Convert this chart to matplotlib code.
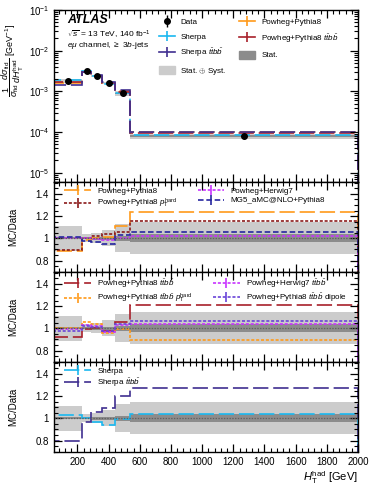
import numpy as np
import matplotlib
matplotlib.use("Agg")
import matplotlib.pyplot as plt
from matplotlib.lines import Line2D
from matplotlib.patches import Patch
from matplotlib.ticker import MultipleLocator, FixedLocator, FixedFormatter, LogLocator, NullFormatter

plt.rcParams["font.family"] = ["Liberation Sans", "DejaVu Sans"]
plt.rcParams["mathtext.fontset"] = "custom"
plt.rcParams["mathtext.rm"] = "Liberation Sans"
plt.rcParams["mathtext.it"] = "Liberation Sans:italic"
plt.rcParams["mathtext.bf"] = "Liberation Sans:bold"
plt.rcParams["mathtext.sf"] = "Liberation Sans"
plt.rcParams["lines.scale_dashes"] = False

# binning and unfolded data
edges = [50, 230, 290, 360, 440, 540, 2000]
data = [1.8e-3, 3.1e-3, 2.4e-3, 1.6e-3, 0.9e-3, 8.0e-5]
tot_unc = [0.115, 0.036, 0.045, 0.072, 0.125, 0.145]
stat_unc = [0.01, 0.01, 0.012, 0.015, 0.02, 0.035]

# MC / Data ratios
r_pp8 = [0.885, 0.985, 1.0, 1.015, 1.11, 1.24]
r_pp8_pthard = [0.895, 1.0, 1.02, 1.035, 1.06, 1.16]
r_ph7 = [1.0, 1.0, 0.99, 0.985, 1.0, 1.022]
r_mg5 = [1.01, 0.98, 0.97, 0.945, 1.03, 1.054]

r_pp8_ttbb = [0.92, 0.99, 1.0, 0.98, 1.06, 1.21]
r_pp8_ttbb_pthard = [1.005, 1.056, 1.035, 0.96, 0.99, 0.895]
r_ph7_ttbb = [0.99, 1.03, 1.02, 0.97, 1.03, 1.036]
r_pp8_ttbb_dipole = [0.98, 1.02, 1.015, 0.975, 1.035, 1.066]

r_sherpa = [1.03, 1.0, 0.97, 0.94, 0.995, 1.038]
r_sherpa_ttbb = [0.8, 0.965, 1.06, 1.09, 1.2, 1.27]

C_ORANGE = "#ff9a1a"
C_DRED = "#a8202a"
C_CYAN = "#1ab8f0"
C_SHTTBB = "#3f2f90"
C_PTHARD = "#8b1a1a"
C_MAGENTA = "#c833ff"
C_MG5 = "#2626a0"
C_DIPOLE = "#6a44d8"
C_TOT = "#cccccc"
C_STAT = "#8c8c8c"

LONG = (0, (11, 3.5))
DOT = (0, (2.2, 1.3))
SHORTD = (0, (4, 2))

edges_a = np.array(edges)
centers = 0.5 * (edges_a[1:] + edges_a[:-1])
data_a = np.array(data)
tot_a = np.array(tot_unc)
stat_a = np.array(stat_unc)

W, H = 374, 490
fig = plt.figure(figsize=(W / 100, H / 100), dpi=100)

def add_ax(top, bottom, left=54, right=358):
    return fig.add_axes([left / W, 1 - bottom / H, (right - left) / W, (bottom - top) / H])

ax0 = add_ax(10, 181.7)
ax1 = add_ax(181.7, 271.7)
ax2 = add_ax(271.7, 361.7)
ax3 = add_ax(361.7, 451.7)

# ---- main panel ----
ax0.stairs(data_a * (1 + tot_a), edges, baseline=data_a * (1 - tot_a), fill=True, color=C_TOT, lw=0)
ax0.stairs(data_a * (1 + stat_a), edges, baseline=data_a * (1 - stat_a), fill=True, color=C_STAT, lw=0)
ax0.stairs(data_a * np.array(r_pp8), edges, color=C_ORANGE, lw=1.2, ls=LONG)
ax0.stairs(data_a * np.array(r_sherpa), edges, color=C_CYAN, lw=1.2, ls=LONG)
ax0.stairs(data_a * np.array(r_pp8_ttbb), edges, color=C_DRED, lw=1.2, ls=LONG)
ax0.stairs(data_a * np.array(r_sherpa_ttbb), edges, color=C_SHTTBB, lw=1.2, ls=LONG)
ax0.errorbar(centers, data_a, yerr=data_a * tot_a, fmt="o", color="k", ms=4, elinewidth=1, capsize=0, zorder=5)

ax0.set_yscale("log")
ax0.set_ylim(6e-6, 1e-1)
ax0.yaxis.set_major_locator(LogLocator(base=10, numticks=10))
ax0.yaxis.set_minor_locator(LogLocator(base=10, subs=np.arange(2, 10), numticks=20))
ax0.yaxis.set_minor_formatter(NullFormatter())
fig.text(13 / W, 1 - 60 / H,
         r"$\dfrac{1}{\sigma_{\rm fid}}\,\dfrac{d\sigma_{\rm fid}}{dH_{\rm T}^{\rm had}}$ [GeV$^{-1}$]",
         rotation=90, ha="center", va="center", fontsize=6.5)

ax0.text(0.042, 0.975, "ATLAS", transform=ax0.transAxes, fontsize=9, weight="bold", style="italic", va="top")
ax0.text(0.042, 0.89, r"$\sqrt{s}$ = 13 TeV, 140 fb$^{-1}$", transform=ax0.transAxes, fontsize=6, va="top")
ax0.text(0.042, 0.825, r"$e\mu$ channel, $\geq$ 3$b$-jets", transform=ax0.transAxes, fontsize=6, va="top")

def mc_handle(color, ls="-"):
    return (Line2D([], [], color=color, ls=ls, lw=1.2),
            Line2D([], [], color=color, ls="none", marker="|", ms=7, mew=1.2))

h_data = (Line2D([], [], color="k", ls="none", marker="|", ms=8, mew=1),
          Line2D([], [], color="k", ls="none", marker="o", ms=4))
handles0 = [h_data, mc_handle(C_CYAN), mc_handle(C_SHTTBB), Patch(color=C_TOT),
            mc_handle(C_ORANGE), mc_handle(C_DRED), Patch(color=C_STAT)]
labels0 = ["Data", "Sherpa", r"Sherpa $t\bar{t}b\bar{b}$", r"Stat. $\oplus$ Syst.",
           "Powheg+Pythia8", r"Powheg+Pythia8 $t\bar{t}b\bar{b}$", "Stat."]
ax0.legend(handles0, labels0, ncol=2, loc="upper left", bbox_to_anchor=(0.32, 1.0), frameon=False,
           fontsize=5.8, handlelength=2.0, handleheight=1.2, labelspacing=0.75, columnspacing=1.6,
           handletextpad=0.7)

# ---- ratio panels ----
def ratio_base(ax):
    ax.stairs(1 + tot_a, edges, baseline=1 - tot_a, fill=True, color=C_TOT, lw=0)
    ax.stairs(1 + stat_a, edges, baseline=1 - stat_a, fill=True, color=C_STAT, lw=0)
    ax.axhline(1, color="#606060", ls=(0, (1, 1)), lw=0.9)
    ax.set_ylim(0.7, 1.51)
    ax.yaxis.set_major_locator(FixedLocator([0.8, 1.0, 1.2, 1.4]))
    ax.yaxis.set_major_formatter(FixedFormatter(["0.8", "1", "1.2", "1.4"]))
    ax.yaxis.set_minor_locator(MultipleLocator(0.05))
    ax.set_ylabel("MC/Data", fontsize=7)
    ax.yaxis.set_label_coords(-0.118, 0.5)

def ratio_legend(ax, handles, labels, ncol):
    ax.legend(handles, labels, ncol=ncol, loc="upper left", bbox_to_anchor=(0.01, 1.02), frameon=False,
              fontsize=5.8, handlelength=3.3, labelspacing=0.25, columnspacing=2.5, handletextpad=0.8)

ratio_base(ax1)
ax1.stairs(r_pp8, edges, color=C_ORANGE, lw=1.2, ls=LONG)
ax1.stairs(r_pp8_pthard, edges, color=C_PTHARD, lw=1.2, ls=DOT)
ax1.stairs(r_ph7, edges, color=C_MAGENTA, lw=1.2, ls=DOT)
ax1.stairs(r_mg5, edges, color=C_MG5, lw=1.2, ls=SHORTD)
ratio_legend(ax1,
             [mc_handle(C_ORANGE, LONG), mc_handle(C_PTHARD, DOT), mc_handle(C_MAGENTA, DOT), mc_handle(C_MG5, SHORTD)],
             ["Powheg+Pythia8", r"Powheg+Pythia8 $p_{\rm T}^{\rm hard}$", "Powheg+Herwig7", "MG5_aMC@NLO+Pythia8"], 2)

ratio_base(ax2)
ax2.stairs(r_pp8_ttbb, edges, color=C_DRED, lw=1.2, ls=LONG)
ax2.stairs(r_pp8_ttbb_pthard, edges, color=C_ORANGE, lw=1.2, ls=DOT)
ax2.stairs(r_ph7_ttbb, edges, color=C_MAGENTA, lw=1.2, ls=DOT)
ax2.stairs(r_pp8_ttbb_dipole, edges, color=C_DIPOLE, lw=1.2, ls=DOT)
ratio_legend(ax2,
             [mc_handle(C_DRED, LONG), mc_handle(C_ORANGE, DOT), mc_handle(C_MAGENTA, DOT), mc_handle(C_DIPOLE, DOT)],
             [r"Powheg+Pythia8 $t\bar{t}b\bar{b}$", r"Powheg+Pythia8 $t\bar{t}b\bar{b}$ $p_{\rm T}^{\rm hard}$",
              r"Powheg+Herwig7 $t\bar{t}b\bar{b}$", r"Powheg+Pythia8 $t\bar{t}b\bar{b}$ dipole"], 2)

ratio_base(ax3)
ax3.stairs(r_sherpa, edges, color=C_CYAN, lw=1.2, ls=LONG)
ax3.stairs(r_sherpa_ttbb, edges, color=C_SHTTBB, lw=1.2, ls=LONG)
ratio_legend(ax3, [mc_handle(C_CYAN, LONG), mc_handle(C_SHTTBB, LONG)],
             ["Sherpa", r"Sherpa $t\bar{t}b\bar{b}$"], 1)

for ax in (ax0, ax1, ax2, ax3):
    ax.set_xlim(50, 2000)
    ax.xaxis.set_major_locator(MultipleLocator(200))
    ax.xaxis.set_minor_locator(MultipleLocator(40))
    ax.tick_params(which="both", direction="in", top=True, right=True, labelsize=7)
    ax.tick_params(which="major", length=6, width=0.9)
    ax.tick_params(which="minor", length=3, width=0.8)
    for s in ax.spines.values():
        s.set_linewidth(1.0)
    if ax is not ax3:
        ax.tick_params(labelbottom=False)

ax3.set_xlabel(r"$H_{\rm T}^{\rm had}$ [GeV]", fontsize=8, loc="right", labelpad=2)

fig.savefig("out.png", dpi=100)
